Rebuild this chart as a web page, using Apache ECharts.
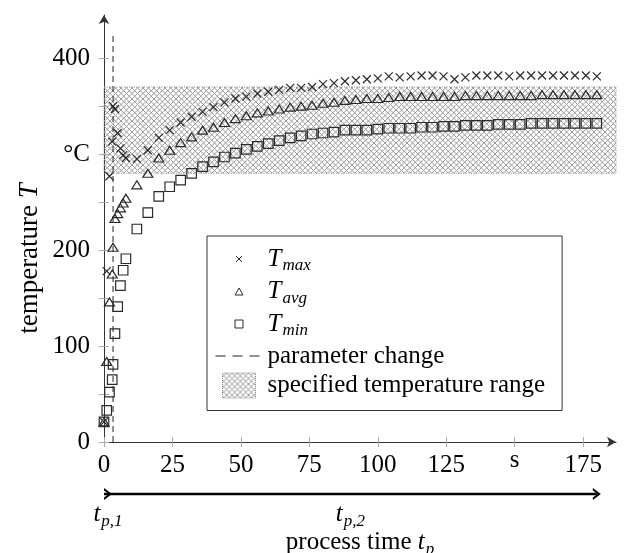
<!DOCTYPE html>
<html>
<head>
<meta charset="utf-8">
<script src="https://cdn.jsdelivr.net/npm/echarts@6/dist/echarts.min.js"></script>
<style>
  html, body { margin: 0; padding: 0; background: #fff; }
  #chart { width: 625px; height: 553px; }
</style>
</head>
<body>
<div id="chart"></div>
<script>
// Sample times in s: dense around the parameter change, then every 4 s
const times = [0, 1, 2, 3, 3.3, 4, 5, 6, 7, 8,
  12, 16, 20, 24, 28, 32, 36, 40, 44, 48, 52, 56, 60, 64, 68, 72, 76, 80, 84, 88, 92, 96, 100,
  104, 108, 112, 116, 120, 124, 128, 132, 136, 140, 144, 148, 152, 156, 160, 164, 168, 172, 176, 180];

// Temperatures in °C
const tMax = [21, 178, 277, 313, 350, 347, 322, 306, 299, 296,
  295, 304, 317, 325, 333, 339, 344, 349, 354, 358, 360, 363, 365, 367, 369, 369, 370, 373, 374, 376, 377, 378, 379,
  381, 380, 381, 382, 382, 381, 378, 380, 382, 382, 382, 381, 382, 382, 382, 382, 382, 382, 382, 381];
const tAvg = [21, 84, 146, 175, 203, 233, 238, 244, 249, 254,
  268, 280, 296, 304, 312, 318, 325, 328, 333, 337, 340, 343, 345, 347, 349, 350, 351, 353, 354, 356, 357, 358, 358,
  359, 360, 360, 360, 360, 360, 360, 361, 361, 361, 361, 361, 361, 361, 362, 362, 362, 362, 362, 362];
const tMin = [21, 33, 52, 65, 81, 113, 141, 163, 179, 191,
  222, 239, 256, 266, 273, 280, 287, 292, 297, 301, 305, 308, 311, 314, 317, 319, 321, 322, 323, 325, 325, 325, 326,
  327, 327, 327, 328, 328, 329, 329, 330, 330, 330, 331, 331, 331, 332, 332, 332, 332, 332, 332, 332];

// Parameter change and specified temperature range
const paramChangeTime = 3.3;
const paramChangeTop = 426;
const bandLow = 280;
const bandHigh = 370;
const bandStart = 0;
const bandEnd = 187;

// Process phases drawn under the time axis
const phaseStart = 0;
const phaseEnd = 180;
const phaseLabelTimes = [0, 90];
const phaseLabels = ['{it|t}{sub|p,1}', '{it|t}{sub|p,2}'];

// Axes
const xMax = 187;
const yMax = 445;
const xTicks = [0, 25, 50, 75, 100, 125, 150, 175];
const xTickLabels = ['0', '25', '50', '75', '100', '125', '{u|s}', '175'];
const yTicks = [0, 50, 100, 150, 200, 250, 300, 350, 400];
const yLabelValues = [0, 100, 200, 300, 400];
const yTickLabels = ['0', '100', '200', '°C', '400'];

const SERIF = "'Liberation Serif', 'DejaVu Serif', serif";
const FS = 25;
const FS_SUB = 17;
const FS_YNAME = 27;
const INK = '#2a2a2a';

const rich = {
  n:   { fontFamily: SERIF, fontSize: FS, color: '#000', lineHeight: 25 },
  it:  { fontFamily: SERIF, fontSize: FS, fontStyle: 'italic', color: '#000', lineHeight: 25 },
  sub: { fontFamily: SERIF, fontSize: FS_SUB, fontStyle: 'italic', color: '#000',
         verticalAlign: 'top', padding: [11, 0, 0, 1], lineHeight: 25 },
  u:   { fontFamily: SERIF, fontSize: FS, color: '#000', lineHeight: 15 },
  yn:  { fontFamily: SERIF, fontSize: FS_YNAME, color: '#000', lineHeight: 27 },
  yit: { fontFamily: SERIF, fontSize: FS_YNAME, fontStyle: 'italic', color: '#000', lineHeight: 27 }
};

// Crosshatch fill for the temperature band
function makeHatch() {
  const c = document.createElement('canvas');
  c.width = 11; c.height = 11;
  const g = c.getContext('2d');
  g.strokeStyle = '#9a9a9a';
  g.lineWidth = 1;
  for (let k = -2; k <= 2; k++) {
    const o = k * 5.5;
    g.beginPath(); g.moveTo(o, 0); g.lineTo(o + 11, 11); g.stroke();
    g.beginPath(); g.moveTo(o, 11); g.lineTo(o + 11, 0); g.stroke();
  }
  return c;
}
const hatch = { image: makeHatch(), repeat: 'repeat' };

const zip = (xs, ys) => xs.map((x, i) => [x, ys[i]]);

const CROSS = 'path://M0,0 L10,10 M10,0 L0,10';
const CHEVRON = 'path://M0,0 L8,6 L0,12 L0,9.6 L4.8,6 L0,2.4 Z';

const legendNames = {
  Tmax: '{it|T}{sub|max}',
  Tavg: '{it|T}{sub|avg}',
  Tmin: '{it|T}{sub|min}'
};

const markerStyle = { color: 'transparent', borderColor: INK, borderWidth: 1.2, opacity: 1 };

const chart = echarts.init(document.getElementById('chart'), null, { renderer: 'canvas' });

chart.setOption({
  animation: false,
  backgroundColor: '#fff',
  grid: [
    { left: 104, right: 9, top: 15, bottom: 111, containLabel: false, outerBoundsMode: 'none' },
    { left: 104, right: 9, top: 484, height: 20, containLabel: false, outerBoundsMode: 'none' }
  ],
  xAxis: [
    {
      type: 'value', gridIndex: 0, min: 0, max: xMax, position: 'bottom',
      axisLine: { show: true, onZero: false, lineStyle: { color: '#333', width: 1 },
                  symbol: ['none', 'arrow'], symbolSize: [8, 9] },
      axisTick: { show: true, inside: false, length: 5, customValues: xTicks,
                  lineStyle: { color: '#aaa', width: 1 } },
      axisLabel: { show: true, customValues: xTicks, margin: 11, color: '#000',
                   fontFamily: SERIF, fontSize: FS, rich: rich,
                   formatter: (v) => xTickLabels[xTicks.indexOf(v)] },
      splitLine: { show: false },
      name: '{n|process time }{it|t}{sub|p}', nameLocation: 'middle', nameGap: 88,
      nameMoveOverlap: false,
      nameTextStyle: { fontFamily: SERIF, fontSize: FS, color: '#000', rich: rich }
    },
    {
      type: 'value', gridIndex: 0, min: 0, max: xMax, position: 'bottom',
      axisLine: { show: false },
      axisTick: { show: true, inside: true, length: 5, customValues: xTicks,
                  lineStyle: { color: '#aaa', width: 1 } },
      axisLabel: { show: false },
      splitLine: { show: false }
    },
    { type: 'value', gridIndex: 1, min: 0, max: xMax, show: false }
  ],
  yAxis: [
    {
      type: 'value', gridIndex: 0, min: 0, max: yMax, position: 'left',
      axisLine: { show: true, onZero: false, lineStyle: { color: '#333', width: 1 },
                  symbol: ['none', 'arrow'], symbolSize: [8, 9] },
      axisTick: { show: true, inside: false, length: 5, customValues: yTicks,
                  lineStyle: { color: '#aaa', width: 1 } },
      axisLabel: { show: true, customValues: yLabelValues, margin: 14, color: '#000',
                   fontFamily: SERIF, fontSize: FS,
                   formatter: (v) => yTickLabels[yLabelValues.indexOf(v)] },
      splitLine: { show: false },
      name: '{yn|temperature }{yit|T}', nameLocation: 'middle', nameRotate: 90, nameGap: 61,
      nameMoveOverlap: false,
      nameTextStyle: { fontFamily: SERIF, fontSize: FS_YNAME, color: '#000', rich: rich,
                       padding: [0, 60, 0, 0] }
    },
    {
      type: 'value', gridIndex: 0, min: 0, max: yMax, position: 'left',
      axisLine: { show: false },
      axisTick: { show: true, inside: true, length: 5, customValues: yTicks,
                  lineStyle: { color: '#aaa', width: 1 } },
      axisLabel: { show: false },
      splitLine: { show: false }
    },
    { type: 'value', gridIndex: 1, min: -1, max: 1, show: false }
  ],
  legend: {
    show: true,
    orient: 'vertical',
    left: 207, top: 236,
    padding: [10, 17, 12, 8],
    itemGap: 4,
    itemWidth: 47, itemHeight: 25,
    borderColor: '#333', borderWidth: 1, borderRadius: 0,
    backgroundColor: '#fff',
    selectedMode: false,
    textStyle: { fontFamily: SERIF, fontSize: FS, color: '#000', rich: rich },
    formatter: (name) => legendNames[name] || name,
    data: [
      { name: 'Tmax', icon: 'path://M0,0 M47,25 M20.5,9.5 L26.5,15.5 M26.5,9.5 L20.5,15.5',
        itemStyle: { color: 'transparent', borderColor: INK, borderWidth: 1 } },
      { name: 'Tavg', icon: 'path://M0,0 M47,25 M19.5,16 L27.5,16 L23.5,9 Z',
        itemStyle: { color: 'transparent', borderColor: INK, borderWidth: 1 } },
      { name: 'Tmin', icon: 'path://M0,0 M47,25 M19.5,8.5 L27.5,8.5 L27.5,16.5 L19.5,16.5 Z',
        itemStyle: { color: 'transparent', borderColor: INK, borderWidth: 1 } },
      { name: 'parameter change',
        icon: 'path://M0,0 M47,25 M0,12 L10,12 L10,13 L0,13 Z M17,12 L27,12 L27,13 L17,13 Z M34,12 L44,12 L44,13 L34,13 Z',
        itemStyle: { color: '#222', borderWidth: 0 } },
      { name: 'specified temperature range', icon: 'path://M0,0 M47,25 M7,0 L40,0 L40,25 L7,25 Z',
        itemStyle: { color: hatch, borderColor: '#888', borderWidth: 1, borderType: 'dotted' } }
    ]
  },
  series: [
    {
      name: 'specified temperature range', type: 'custom', xAxisIndex: 0, yAxisIndex: 0,
      silent: true, z: 1,
      data: [[bandStart, bandEnd, bandLow, bandHigh]],
      encode: { x: [0, 1], y: [2, 3] },
      itemStyle: { color: hatch },
      renderItem: (params, api) => {
        const a = api.coord([api.value(0), api.value(3)]);
        const b = api.coord([api.value(1), api.value(2)]);
        return {
          type: 'rect',
          shape: { x: a[0], y: a[1], width: b[0] - a[0], height: b[1] - a[1] },
          style: { fill: hatch, stroke: '#8a8a8a', lineWidth: 1, lineDash: [1, 1.5] }
        };
      }
    },
    {
      name: 'parameter change', type: 'line', xAxisIndex: 0, yAxisIndex: 0,
      silent: true, z: 2,
      data: zip([paramChangeTime, paramChangeTime], [0, paramChangeTop]),
      symbol: 'none',
      lineStyle: { color: '#222', width: 1, type: [6, 4] }
    },
    {
      name: 'Tmax', type: 'scatter', xAxisIndex: 0, yAxisIndex: 0, silent: true, z: 5,
      data: zip(times, tMax), symbol: CROSS, symbolSize: 8, itemStyle: markerStyle
    },
    {
      name: 'Tavg', type: 'scatter', xAxisIndex: 0, yAxisIndex: 0, silent: true, z: 5,
      data: zip(times, tAvg), symbol: 'triangle', symbolSize: [10, 8], itemStyle: markerStyle
    },
    {
      name: 'Tmin', type: 'scatter', xAxisIndex: 0, yAxisIndex: 0, silent: true, z: 5,
      data: zip(times, tMin), symbol: 'rect', symbolSize: 9.5, itemStyle: markerStyle
    },
    {
      name: 'process phases', type: 'line', xAxisIndex: 2, yAxisIndex: 2, silent: true,
      data: [
        { value: [phaseStart, 0], symbolOffset: [4, 0] },
        { value: [phaseEnd, 0] }
      ],
      symbol: CHEVRON, symbolSize: [8, 12], showSymbol: true,
      itemStyle: { color: '#000', opacity: 1 },
      lineStyle: { color: '#000', width: 2.4 }
    },
    {
      name: 'phase labels', type: 'scatter', xAxisIndex: 2, yAxisIndex: 2, silent: true,
      data: zip(phaseLabelTimes, [0, 0]).map((p, i) => ({
        value: p,
        label: { formatter: phaseLabels[i], offset: i === 0 ? [4, 0] : [0, 0] }
      })),
      symbolSize: 0,
      itemStyle: { opacity: 1 },
      label: { show: true, position: 'bottom', distance: 8, rich: rich,
               fontFamily: SERIF, fontSize: FS, color: '#000' }
    }
  ]
});
</script>
</body>
</html>
